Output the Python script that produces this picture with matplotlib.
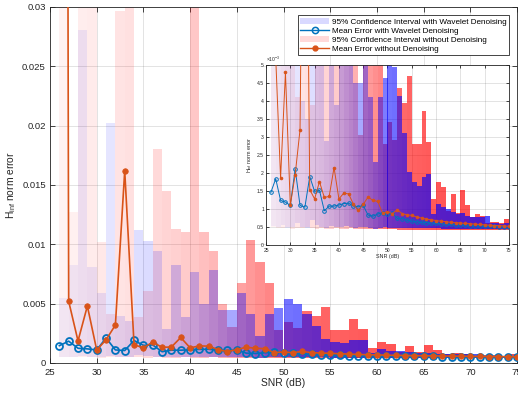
import numpy as np
import matplotlib
matplotlib.use("Agg")
import matplotlib.pyplot as plt
from matplotlib.patches import Patch
from matplotlib.lines import Line2D
from matplotlib.ticker import FuncFormatter, MultipleLocator

plt.rcParams['font.family'] = ['Liberation Sans', 'DejaVu Sans']
plt.rcParams['mathtext.default'] = 'regular'

# ---------------- data (values in units of 1e-3) ----------------
snr = list(range(26, 76))

mean_wavelet = [1.46, 1.84, 1.24, 1.19, 1.10, 2.11, 1.10, 1.05, 1.90, 1.49,
                1.52, 0.95, 1.08, 1.08, 1.11, 1.15, 1.16, 1.08, 1.06, 1.10,
                0.83, 0.80, 0.86, 0.90, 0.86, 0.88, 0.74, 0.73, 0.69, 0.66,
                0.64, 0.63, 0.62, 0.61, 0.60, 0.59, 0.58, 0.57, 0.56, 0.56,
                0.55, 0.54, 0.54, 0.53, 0.53, 0.52, 0.52, 0.51, 0.51, 0.50]

mean_raw = [350.0, 5.2, 1.86, 4.8, 1.10, 1.95, 3.2, 16.2, 1.54, 1.28,
            1.76, 1.32, 1.35, 2.15, 1.28, 1.44, 1.42, 1.13, 0.96, 1.13,
            1.33, 1.24, 1.21, 0.88, 0.93, 0.87, 0.98, 0.87, 0.84, 0.82,
            0.78, 0.75, 0.72, 0.70, 0.68, 0.66, 0.65, 0.63, 0.62, 0.61,
            0.60, 0.59, 0.58, 0.57, 0.56, 0.55, 0.54, 0.54, 0.53, 0.52]

ci_wavelet_hi = [5.5, 8.3, 28.1, 8.1, 5.9, 20.2, 4.0, 3.5, 11.2, 10.3,
                 9.4, 2.9, 8.3, 3.9, 7.7, 5.0, 7.8, 4.5, 4.5, 5.9,
                 4.1, 2.3, 4.1, 4.65, 5.4, 4.95, 4.15, 3.1, 2.03, 1.75,
                 1.65, 1.9, 1.97, 0.87, 1.15, 1.05, 1.0, 0.92, 0.87, 0.88,
                 0.8, 0.77, 0.78, 0.78, 0.8, 0.6, 0.6, 0.58, 0.6, 0.58]

ci_wavelet_lo = [0.52, 0.50, 0.55, 0.48, 0.50, 0.62, 0.50, 0.47, 0.70, 0.55,
                 0.50, 0.47, 0.52, 0.50, 0.50, 0.52, 0.50, 0.48, 0.50, 0.50,
                 0.47, 0.45, 0.48, 0.50, 0.48, 0.48, 0.47, 0.47, 0.47, 0.46,
                 0.46, 0.46, 0.46, 0.46, 0.46, 0.45, 0.45, 0.45, 0.45, 0.45,
                 0.45, 0.45, 0.45, 0.45, 0.45, 0.45, 0.44, 0.44, 0.44, 0.44]

ci_raw_hi = [700.0, 12.7, 40.0, 40.0, 10.2, 4.1, 29.7, 40.0, 3.9, 6.1,
             18.0, 14.5, 11.3, 11.0, 40.0, 11.0, 9.4, 5.0, 3.05, 6.7,
             10.4, 8.5, 6.7, 2.8, 3.43, 2.92, 4.35, 3.95, 4.7, 2.8,
             2.8, 3.73, 2.85, 1.29, 1.76, 1.6, 0.95, 1.42, 0.9, 1.54,
             1.1, 0.77, 0.87, 0.8, 0.62, 0.65, 0.65, 0.6, 0.72, 0.7]

ci_raw_lo = [0.50, 0.48, 0.47, 0.50, 0.45, 0.48, 0.47, 0.50, 0.47, 0.45,
             0.47, 0.45, 0.45, 0.48, 0.45, 0.45, 0.47, 0.45, 0.45, 0.45,
             0.45, 0.45, 0.44, 0.44, 0.44, 0.44, 0.43, 0.43, 0.43, 0.43,
             0.43, 0.43, 0.43, 0.43, 0.43, 0.43, 0.43, 0.43, 0.43, 0.43,
             0.43, 0.43, 0.43, 0.43, 0.43, 0.43, 0.43, 0.43, 0.43, 0.43]

legend_labels = ['95% Confidence Interval with Wavelet Denoising',
                 'Mean Error with Wavelet Denoising',
                 '95% Confidence Interval without Denoising',
                 'Mean Error without Denoising']

# ---------------- styling ----------------
S = 1e-3
x = np.array(snr, dtype=float)
mw = np.array(mean_wavelet) * S
mr = np.array(mean_raw) * S
wh = np.array(ci_wavelet_hi) * S
wl = np.array(ci_wavelet_lo) * S
rh = np.array(ci_raw_hi) * S
rl = np.array(ci_raw_lo) * S

# opacity ramps up with SNR
alphas = np.interp(x, [26, 31, 36, 40, 46, 50, 55, 60, 75],
                   [0.05, 0.10, 0.15, 0.22, 0.40, 0.55, 0.62, 0.66, 0.70])
blue_cols = [(0.0, 0.0, 1.0, a) for a in alphas]
red_cols = [(1.0, 0.0, 0.0, a) for a in alphas]

C_BLUE = (0.0, 0.447, 0.741)
C_RED = (0.85, 0.325, 0.098)
AX_COL = (0.15, 0.15, 0.15)

W, H = 518, 399
fig = plt.figure(figsize=(W / 100, H / 100), dpi=100)


def style_axes(ax, fs, ticklen, xpad, ypad):
    for s in ax.spines.values():
        s.set_color(AX_COL)
        s.set_linewidth(0.6)
    ax.tick_params(direction='in', top=True, right=True, length=ticklen,
                   width=0.6, colors=AX_COL, labelsize=fs)
    ax.tick_params(axis='x', pad=xpad)
    ax.tick_params(axis='y', pad=ypad)
    ax.grid(True, color=(0.15, 0.15, 0.15), alpha=0.15, linewidth=0.6)
    ax.set_axisbelow(True)


def draw(ax, lw, ms, mew):
    ax.bar(x, rh - rl, bottom=rl, width=1.0, align='edge', color=red_cols,
           edgecolor='none', zorder=1)
    ax.bar(x, wh - wl, bottom=wl, width=1.0, align='edge', color=blue_cols,
           edgecolor='none', zorder=1.1)
    ax.plot(x, mw, '-o', color=C_BLUE, lw=lw, ms=ms, mfc='none', mew=mew,
            zorder=3)
    ax.plot(x, mr, '-o', color=C_RED, lw=lw, ms=ms * 0.8, mfc=C_RED,
            mec=C_RED, mew=0.5, zorder=4)


# ---------------- main axes ----------------
ax = fig.add_axes([50 / W, 1 - 363 / H, 467 / W, 356 / H])
draw(ax, 1.2, 5.0, 1.3)
ax.set_xlim(25, 75)
ax.set_ylim(0, 0.03)
ax.xaxis.set_major_locator(MultipleLocator(5))
ax.yaxis.set_major_locator(MultipleLocator(0.005))
ax.yaxis.set_major_formatter(FuncFormatter(lambda v, p: f"{v:g}"))
style_axes(ax, 6.8, 3.6, 3.6, 3.0)
ax.set_xlabel('SNR (dB)', fontsize=7.4, color=AX_COL, labelpad=1)
ax.set_ylabel('H$_{inf}$ norm error', fontsize=7.4, color=AX_COL, labelpad=3)

handles = [Patch(facecolor=(0, 0, 1, 0.15), edgecolor='none'),
           Line2D([], [], color=C_BLUE, marker='o', mfc='none', lw=1.0, ms=4.5, mew=1.1),
           Patch(facecolor=(1, 0, 0, 0.15), edgecolor='none'),
           Line2D([], [], color=C_RED, marker='o', mfc=C_RED, lw=1.0, ms=3.5)]
leg = ax.legend(handles, legend_labels, loc='upper right',
                bbox_to_anchor=(0.983, 0.9775), borderaxespad=0,
                fontsize=5.9, handlelength=3.5, handletextpad=0.3,
                labelspacing=0.15, borderpad=0.35, fancybox=False,
                framealpha=1, edgecolor=AX_COL)
leg.get_frame().set_linewidth(0.6)

# ---------------- inset axes ----------------
ins = fig.add_axes([266 / W, 1 - 245 / H, 243 / W, 180 / H])
ins.set_facecolor('white')
draw(ins, 0.7, 2.6, 0.7)
ins.set_xlim(25, 75)
ins.set_ylim(0, 0.005)
ins.xaxis.set_major_locator(MultipleLocator(5))
ins.yaxis.set_major_locator(MultipleLocator(0.0005))
ins.yaxis.set_major_formatter(FuncFormatter(lambda v, p: f"{v * 1000:g}"))
style_axes(ins, 3.6, 2.0, 1.8, 1.5)
ins.set_xlabel('SNR (dB)', fontsize=3.9, color=AX_COL, labelpad=1)
ins.set_ylabel('H$_{inf}$ norm error', fontsize=3.9, color=AX_COL, labelpad=2)
ins.text(0.0, 1.005, r'$\times10^{-3}$', transform=ins.transAxes,
         fontsize=3.6, color=AX_COL, ha='left', va='bottom')

fig.savefig('out.png', dpi=100)
